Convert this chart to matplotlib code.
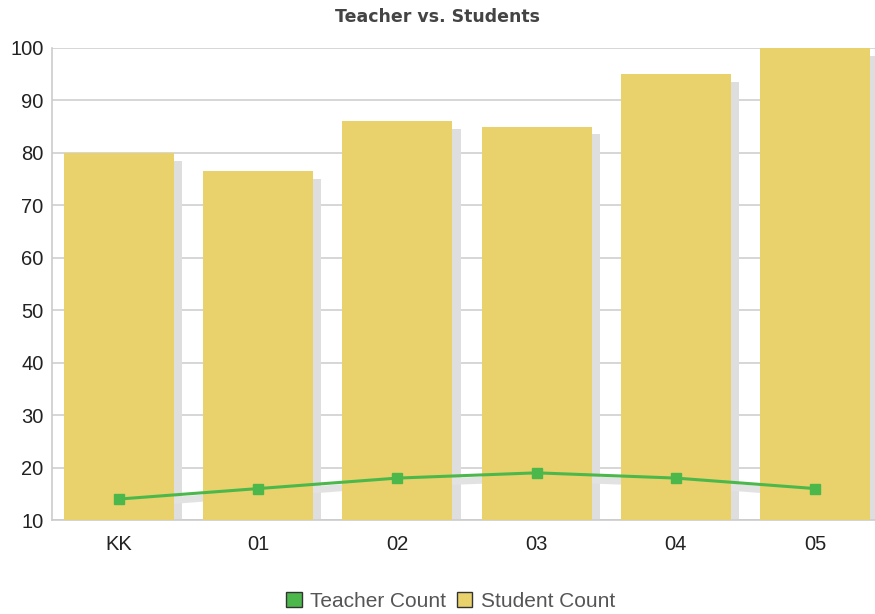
import matplotlib
matplotlib.use("Agg")
import matplotlib.pyplot as plt
from matplotlib.patches import Patch
import numpy as np

grades = ["KK", "01", "02", "03", "04", "05"]
student_count = [80, 76.5, 86, 85, 95, 100]
teacher_count = [14, 16, 18, 19, 18, 16]

plt.rcParams['font.family'] = ['Liberation Sans', 'DejaVu Sans']

fig = plt.figure(figsize=(8.75, 6.14), dpi=100)
ax = fig.add_axes([0.0594, 0.153, 0.9406, 0.769])

x = np.arange(len(grades))
width = 0.79

# drop shadows
ax.bar(x + 0.06, np.array(student_count) - 1.5, width, color="#dedede", zorder=2)
ax.plot(x + 0.02, np.array(teacher_count) - 1.0, color="#e2e2e2", lw=5, zorder=3,
        solid_capstyle="butt")

ax.bar(x, student_count, width, color="#e9d26b", zorder=3, label="Student Count")
ax.plot(x, teacher_count, color="#4cb84c", lw=2.2, marker="s", markersize=7,
        zorder=4, label="Teacher Count")

ax.set_ylim(10, 100)
ax.set_xlim(-0.48, 5.43)
ax.set_yticks(range(10, 101, 10))
ax.set_xticks(x)
ax.set_xticklabels(grades)
ax.yaxis.grid(True, color="#d0d0d0", lw=1.2, zorder=0)
ax.set_axisbelow(True)
for s in ["top", "right"]:
    ax.spines[s].set_visible(False)
for s in ["left", "bottom"]:
    ax.spines[s].set_color("#cccccc")
    ax.spines[s].set_linewidth(1.2)
ax.tick_params(axis="both", length=0, labelsize=14.5, colors="#222222")
ax.tick_params(axis="x", pad=11)
ax.tick_params(axis="y", pad=6)

fig.text(0.5, 0.972, "Teacher vs. Students", ha="center", va="center",
         fontsize=12.5, fontweight="bold", color="#444444", family="DejaVu Sans")

handles = [Patch(facecolor="#4cb84c", edgecolor="#333333", lw=1),
           Patch(facecolor="#e9d26b", edgecolor="#333333", lw=1)]
fig.legend(handles, ["Teacher Count", "Student Count"], loc="center",
           bbox_to_anchor=(0.515, 0.021), ncol=2, frameon=False, fontsize=15,
           handlelength=0.75, handleheight=0.75, handletextpad=0.4, columnspacing=0.5,
           labelcolor="#555555")

fig.savefig("out.png", dpi=100)
